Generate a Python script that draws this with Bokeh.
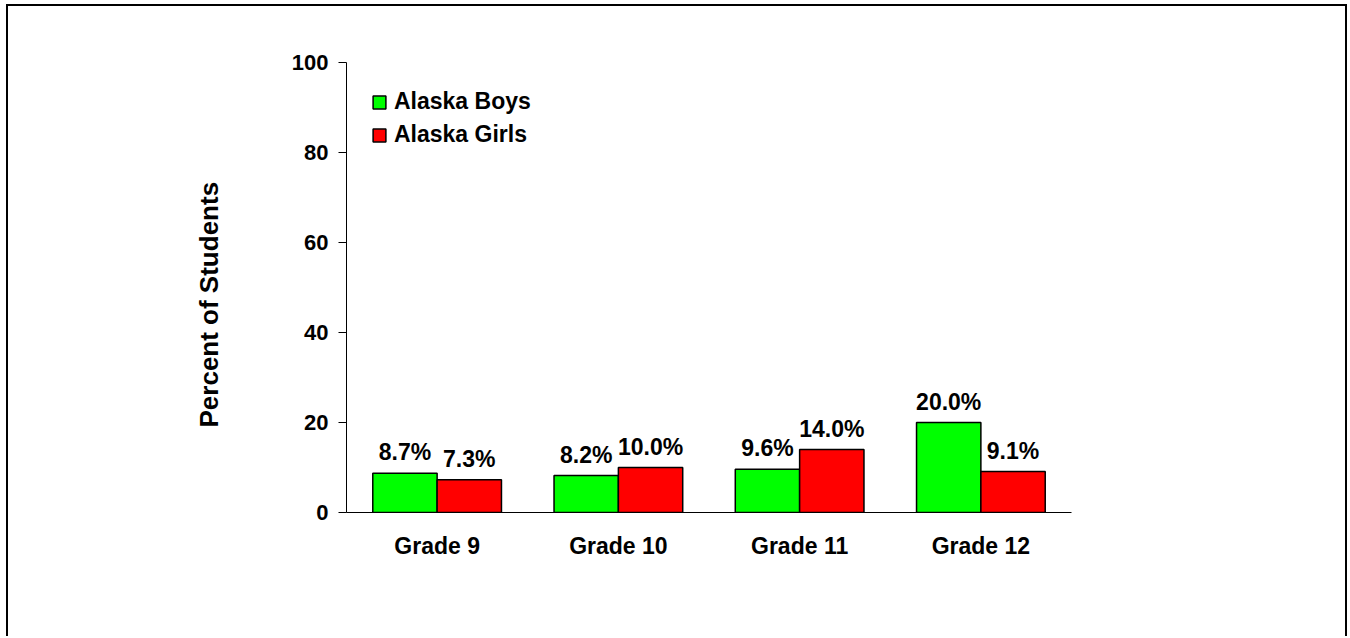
from bokeh.plotting import figure
from bokeh.models import ColumnDataSource, FactorRange, Range1d, Legend, LegendItem, LabelSet, Title
from bokeh.transform import dodge
from bokeh.embed import file_html
from bokeh.resources import INLINE
from bokeh.core.properties import value

grades = ["Grade 9", "Grade 10", "Grade 11", "Grade 12"]
boys = [8.7, 8.2, 9.6, 20.0]
girls = [7.3, 10.0, 14.0, 9.1]
series_names = ["Alaska Boys", "Alaska Girls"]
y_ticks = [0, 20, 40, 60, 80, 100]
y_title = "Percent of Students"

FONT = "Liberation Sans"

src = ColumnDataSource(dict(
    grade=grades,
    boys=boys,
    girls=girls,
    boys_lbl=[f"{v:.1f}%" for v in boys],
    girls_lbl=[f"{v:.1f}%" for v in girls],
))

p = figure(x_range=FactorRange(*grades, range_padding=0), y_range=Range1d(0, 100),
           width=1341, height=632, output_backend="svg", toolbar_location=None,
           min_border_left=338, min_border_right=278, min_border_top=56, min_border_bottom=126)
p.styles = {"border-top": "2px solid black", "border-left": "2px solid black",
            "border-right": "2px solid black", "margin-left": "6px", "margin-top": "4px"}
p.outline_line_color = None
p.grid.visible = False
p.background_fill_color = "white"
p.border_fill_color = "white"

bw = 0.355
rb = p.vbar(x=dodge("grade", -bw / 2, range=p.x_range), top="boys", width=bw, source=src,
            fill_color="#00FF00", line_color="black", line_width=1.5)
rg = p.vbar(x=dodge("grade", bw / 2, range=p.x_range), top="girls", width=bw, source=src,
            fill_color="#FF0000", line_color="black", line_width=1.5)

for col, lbl, off in (("boys", "boys_lbl", -bw / 2), ("girls", "girls_lbl", bw / 2)):
    p.add_layout(LabelSet(x=dodge("grade", off, range=p.x_range), y=col, text=lbl, source=src,
                          text_align="center", text_baseline="alphabetic", y_offset=13,
                          text_font=value(FONT), text_font_style="bold", text_font_size="23px",
                          text_color="black"))

# y axis
ya = p.yaxis[0]
ya.ticker = y_ticks
ya.major_label_text_font = FONT
ya.major_label_text_font_style = "bold"
ya.major_label_text_font_size = "22px"
ya.major_label_text_color = "black"
ya.major_label_standoff = 10
ya.major_tick_out = 8
ya.major_tick_in = 0
ya.minor_tick_line_color = None
ya.axis_line_color = "black"
ya.major_tick_line_color = "black"

# y-axis title, slightly below the frame centre as in the reference
p.add_layout(Title(text=y_title, align="left", offset=85, standoff=130,
                   text_font=FONT, text_font_style="bold", text_font_size="26px",
                   text_color="black"), "left")

xa = p.xaxis[0]
xa.major_label_text_font = FONT
xa.major_label_text_font_style = "bold"
xa.major_label_text_font_size = "23px"
xa.major_label_text_color = "black"
xa.major_label_standoff = 14
xa.major_tick_line_color = None
xa.minor_tick_line_color = None
xa.axis_line_color = "black"

legend = Legend(items=[LegendItem(label=series_names[0], renderers=[rb]),
                       LegendItem(label=series_names[1], renderers=[rg])],
                location=(25, 361), orientation="vertical")
legend.label_text_font = FONT
legend.label_text_font_style = "bold"
legend.label_text_font_size = "23px"
legend.label_text_color = "black"
legend.glyph_width = 16
legend.glyph_height = 16
legend.label_height = 33
legend.label_standoff = 7
legend.spacing = 0
legend.padding = 0
legend.margin = 0
legend.border_line_color = None
legend.background_fill_alpha = 0
p.add_layout(legend)

open("out.html", "w").write(file_html(p, INLINE))
